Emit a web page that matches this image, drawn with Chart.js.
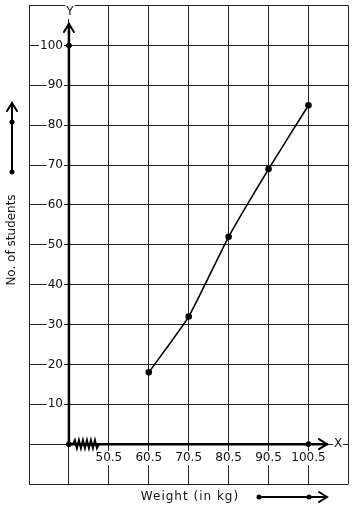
<!DOCTYPE html>
<html>
<head>
<meta charset="utf-8">
<script src="https://cdn.jsdelivr.net/npm/chart.js@4.4.0/dist/chart.umd.min.js"></script>
<style>
  html, body { margin: 0; padding: 0; background: #fff; }
  #wrap { width: 354px; height: 510px; }
</style>
</head>
<body>
<div id="wrap"><canvas id="weightChart"></canvas></div>
<script>
// weights (class marks) and number of students
var weights = [60.5, 70.5, 80.5, 90.5, 100.5];
var students = [18, 32, 52, 69, 85];

// tick labels drawn next to the axes
var xTickLabels = [50.5, 60.5, 70.5, 80.5, 90.5, 100.5];
var yTickLabels = [10, 20, 30, 40, 50, 60, 70, 80, 90, 100];

// graph paper lines
var gridX = [30.5, 40.5, 50.5, 60.5, 70.5, 80.5, 90.5, 100.5, 110.5];
var gridY = [-10, 0, 10, 20, 30, 40, 50, 60, 70, 80, 90, 100, 110];

// origin of the drawn axes and the marked dots on them
var originX = 40.5;
var axisDotsX = [40.5, 40.5, 100.5];
var axisDotsY = [0, 100, 0];

var font = '12px "DejaVu Sans"';

function chevron(ctx, x, y, dir) {
    ctx.beginPath();
    if (dir == 'up') {
        ctx.moveTo(x - 5, y + 8);
        ctx.lineTo(x, y);
        ctx.lineTo(x + 5, y + 8);
    } else {
        ctx.moveTo(x - 8, y - 5);
        ctx.lineTo(x, y);
        ctx.lineTo(x - 8, y + 5);
    }
    ctx.stroke();
}

function boxedText(ctx, text, x, y, align) {
    ctx.font = font;
    var w = ctx.measureText(text).width;
    var left = align == 'right' ? x - w : (align == 'center' ? x - w / 2 : x);
    ctx.fillStyle = '#fff';
    ctx.fillRect(left - 1, y - 7, w + 2, 14);
    ctx.fillStyle = '#111';
    ctx.textAlign = align;
    ctx.textBaseline = 'middle';
    ctx.fillText(text, x, y);
}

var graphPaper = {
    id: 'graphPaper',
    afterDatasetsDraw: function(chart) {
        var ctx = chart.ctx;
        var xs = chart.scales.x, ys = chart.scales.y;
        var ox = xs.getPixelForValue(originX);
        var oy = ys.getPixelForValue(0);
        ctx.save();
        ctx.strokeStyle = '#000';
        ctx.lineCap = 'round';

        // thick axes
        ctx.lineWidth = 2.5;
        ctx.beginPath();
        ctx.moveTo(ox, oy);
        ctx.lineTo(ox, 24);
        ctx.moveTo(ox, oy);
        ctx.lineTo(327, oy);
        ctx.stroke();
        ctx.lineWidth = 2;
        chevron(ctx, ox, 24, 'up');
        chevron(ctx, 327, oy, 'right');

        // kink on the x axis
        ctx.lineWidth = 2;
        ctx.beginPath();
        var zx = ox + 4;
        ctx.moveTo(zx, oy);
        for (var i = 0; i < 6; i++) {
            ctx.lineTo(zx + i * 4 + 2, oy - 4);
            ctx.lineTo(zx + i * 4 + 4, oy + 4);
        }
        ctx.lineTo(zx + 26, oy);
        ctx.stroke();

        // tick labels
        yTickLabels.forEach(function(v) {
            boxedText(ctx, String(v), 63, ys.getPixelForValue(v), 'right');
        });
        xTickLabels.forEach(function(v) {
            boxedText(ctx, String(v), xs.getPixelForValue(v), oy + 14, 'center');
        });
        boxedText(ctx, 'Y', ox + 1, 12, 'center');
        boxedText(ctx, 'X', 338, oy, 'center');

        // axis titles with arrows
        ctx.fillStyle = '#111';
        ctx.font = font;
        ctx.textAlign = 'center';
        ctx.textBaseline = 'middle';
        ctx.letterSpacing = '1px';
        ctx.fillText('Weight (in kg)', 190, 497);
        ctx.letterSpacing = '0px';
        ctx.save();
        ctx.translate(12, 240);
        ctx.rotate(-Math.PI / 2);
        ctx.fillText('No. of students', 0, 0);
        ctx.restore();

        ctx.lineWidth = 2;
        ctx.beginPath();
        ctx.moveTo(258, 497);
        ctx.lineTo(326, 497);
        ctx.moveTo(12, 172);
        ctx.lineTo(12, 104);
        ctx.stroke();
        chevron(ctx, 327, 497, 'right');
        chevron(ctx, 12, 103, 'up');
        ctx.fillStyle = '#000';
        [[259, 497], [309, 497], [12, 172], [12, 122]].forEach(function(p) {
            ctx.beginPath();
            ctx.arc(p[0], p[1], 2.5, 0, Math.PI * 2);
            ctx.fill();
        });
        ctx.restore();
    }
};

var ctx = document.getElementById('weightChart').getContext('2d');
var weightChart = new Chart(ctx, {
    type: 'scatter',
    data: {
        datasets: [{
            data: weights.map(function(w, i) { return { x: w, y: students[i] }; }),
            showLine: true,
            borderColor: '#000',
            backgroundColor: '#000',
            borderWidth: 1.6,
            pointRadius: 2.5,
            tension: 0.15
        }, {
            data: axisDotsX.map(function(x, i) { return { x: x, y: axisDotsY[i] }; }),
            showLine: false,
            backgroundColor: '#000',
            borderColor: '#000',
            pointRadius: 2.5
        }]
    },
    options: {
        responsive: true,
        maintainAspectRatio: false,
        animation: false,
        layout: { padding: { left: 29, right: 5, top: 4, bottom: 26 } },
        plugins: { legend: { display: false }, tooltip: { enabled: false } },
        scales: {
            x: {
                type: 'linear',
                min: 30.5,
                max: 110.5,
                afterBuildTicks: function(scale) {
                    scale.ticks = gridX.map(function(v) { return { value: v }; });
                },
                ticks: { display: false },
                grid: { color: '#222', lineWidth: 1, drawTicks: false },
                border: { display: false }
            },
            y: {
                min: -10,
                max: 110,
                afterBuildTicks: function(scale) {
                    scale.ticks = gridY.map(function(v) { return { value: v }; });
                },
                ticks: { display: false },
                grid: { color: '#222', lineWidth: 1, drawTicks: false },
                border: { display: false }
            }
        }
    },
    plugins: [graphPaper]
});
</script>
</body>
</html>
